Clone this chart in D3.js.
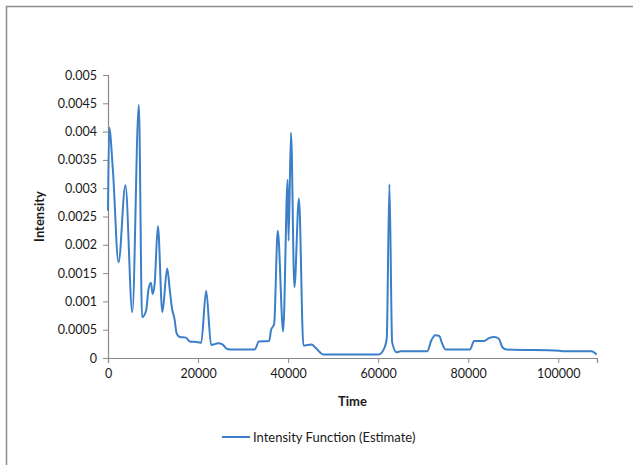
<!DOCTYPE html>
<html>
<head>
<meta charset="utf-8">
<script src="https://cdn.jsdelivr.net/npm/d3@7"></script>
<style>
  body { margin: 0; background: #fff; }
  text { font-family: Lato, "Open Sans", sans-serif; fill: #1a1a1a; }
</style>
</head>
<body>
<svg id="chart" width="633" height="465"></svg>
<script>
// Time values (x) and estimated intensity (y)
const times = [0, 270, 1080, 2340, 3870, 5400, 6850, 7570, 8470, 9000, 9550, 9900, 10360, 11080,
  12070, 13150, 13700, 14230, 14770, 15230, 15950, 17300, 18200, 20000, 20700, 21800, 22900,
  24500, 25400, 26500, 27700, 32600, 33500, 35800, 36200, 36900, 37700, 38900, 39900, 40100,
  40640, 41400, 42400, 43400, 45200, 46100, 47900, 60100, 61300, 61900, 62500, 63100, 64100,
  65000, 70000, 70900, 71800, 72700, 73600, 74100, 75000, 80400, 81300, 83500, 84600, 85800,
  86800, 87600, 88500, 100200, 101100, 104700, 107400, 108500];
const intensity = [0.0026, 0.00407, 0.00333, 0.00169, 0.00305, 0.00081, 0.00447, 0.00072, 0.00084,
  0.00122, 0.00133, 0.00113, 0.00131, 0.00233, 0.00081, 0.00158, 0.00122, 0.00087, 0.00069,
  0.00044, 0.00037, 0.00036, 0.00029, 0.00028, 0.00027, 0.00119, 0.00023, 0.00026, 0.00024,
  0.00016, 0.00015, 0.00015, 0.00029, 0.0003, 0.00049, 0.0006, 0.00225, 0.00047, 0.00315,
  0.00207, 0.00398, 0.00125, 0.00282, 0.00022, 0.00024, 0.00018, 0.00006, 0.00006, 0.00016,
  0.00034, 0.00307, 0.00028, 0.0001, 0.00012, 0.00012, 0.00012, 0.00031, 0.0004, 0.00039,
  0.00028, 0.00015, 0.00015, 0.0003, 0.0003, 0.00035, 0.00037, 0.00034, 0.00019, 0.00015,
  0.00013, 0.00012, 0.00012, 0.00012, 0.00006];
const xTicks = [0, 20000, 40000, 60000, 80000, 100000];
const yTicks = [0, 0.0005, 0.001, 0.0015, 0.002, 0.0025, 0.003, 0.0035, 0.004, 0.0045, 0.005];
const seriesName = 'Intensity Function (Estimate)';

const svg = d3.select('#chart');
const plot = { left: 108, right: 597, top: 75, bottom: 358 };

// outer chart frame
svg.append('rect')
  .attr('x', 6.5).attr('y', 6.5)
  .attr('width', 640).attr('height', 480)
  .attr('fill', 'none').attr('stroke', '#8c8c8c').attr('stroke-width', 1.5);

const x = d3.scaleLinear().domain([0, 108600]).range([plot.left, plot.right]);
const y = d3.scaleLinear().domain([0, 0.005]).range([plot.bottom, plot.top]);

const xAxis = svg.append('g')
  .attr('transform', `translate(0,${plot.bottom})`)
  .call(d3.axisBottom(x).tickValues(xTicks).tickFormat(d3.format('d')).tickSize(5).tickPadding(6));

const yAxis = svg.append('g')
  .attr('transform', `translate(${plot.left},0)`)
  .call(d3.axisLeft(y).tickValues(yTicks).tickFormat(d => d === 0 ? '0' : String(d)).tickSize(5).tickPadding(6));

[xAxis, yAxis].forEach(g => {
  g.select('.domain').attr('stroke', '#8a8a8a').attr('stroke-width', 1.2);
  g.selectAll('.tick line').attr('stroke', '#8a8a8a');
  g.selectAll('.tick text').attr('font-size', 12.5).attr('fill', '#111')
    .attr('font-family', 'Lato, sans-serif');
});

// the intensity curve (smoothed, without overshoot on the flat runs)
const pts = times.map((t, i) => [t, intensity[i]]);
const line = d3.line()
  .x(d => x(d[0]))
  .y(d => y(d[1]))
  .curve(d3.curveMonotoneX);

svg.append('path')
  .datum(pts)
  .attr('d', line)
  .attr('fill', 'none')
  .attr('stroke', '#3b7fc9')
  .attr('stroke-width', 2)
  .attr('stroke-linejoin', 'round');

// axis titles
svg.append('text')
  .attr('x', (plot.left + plot.right) / 2).attr('y', 406)
  .attr('text-anchor', 'middle')
  .attr('font-size', 13).attr('font-weight', 'bold')
  .text('Time');

svg.append('text')
  .attr('transform', `translate(44,${(plot.top + plot.bottom) / 2}) rotate(-90)`)
  .attr('text-anchor', 'middle')
  .attr('font-size', 13).attr('font-weight', 'bold')
  .text('Intensity');

// legend
const legend = svg.append('g').attr('transform', 'translate(222,437)');
legend.append('line')
  .attr('x1', 0).attr('x2', 28).attr('y1', 0).attr('y2', 0)
  .attr('stroke', '#3b7fc9').attr('stroke-width', 2);
legend.append('text')
  .attr('x', 31).attr('y', 4.5)
  .attr('font-size', 13)
  .text(seriesName);
</script>
</body>
</html>
